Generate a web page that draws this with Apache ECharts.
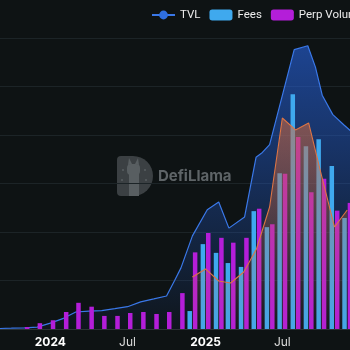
<!DOCTYPE html>
<html><head><meta charset="utf-8">
<script src="https://cdn.jsdelivr.net/npm/echarts@6/dist/echarts.min.js"></script>
<style>
html,body{margin:0;padding:0;background:#0e1314;overflow:hidden;width:350px;height:350px}
#c{position:absolute;left:0;top:0;width:430px;height:350px}
</style></head>
<body><div id="c"></div>
<script>
// TVL ($B)
const tvlDates = ['2023-09-01','2023-10-01','2023-11-01','2023-12-01','2024-01-01','2024-02-01','2024-03-01','2024-04-01','2024-05-01','2024-06-01','2024-07-01','2024-08-01','2024-09-01','2024-10-01','2024-10-20','2024-11-04','2024-12-01','2025-01-05','2025-02-01','2025-02-25','2025-04-03','2025-04-30','2025-05-15','2025-06-01','2025-07-29','2025-08-30','2025-09-17','2025-10-03','2025-10-28','2025-11-24','2025-12-20'];
const tvlValues = [0.005,0.008,0.012,0.02,0.06,0.11,0.175,0.185,0.19,0.21,0.23,0.28,0.31,0.34,0.50,0.63,0.96,1.23,1.31,1.04,1.155,1.77,1.82,1.90,2.88,2.92,2.70,2.41,2.21,2.10,2.00];
// Perp volume ($B, monthly)
const perpMonths = ['2023-11-01','2023-12-01','2024-01-01','2024-02-01','2024-03-01','2024-04-01','2024-05-01','2024-06-01','2024-07-01','2024-08-01','2024-09-01','2024-10-01','2024-11-01','2024-12-01','2025-01-01','2025-02-01','2025-03-01','2025-04-01','2025-05-01','2025-06-01','2025-07-01','2025-08-01','2025-09-01','2025-10-01','2025-11-01','2025-12-01'];
const perpVolume = [2,6,9,17.5,27,23,13.5,13.5,16.5,17.5,15.5,17.5,37,79,99,94,89,94,124,108,160,198,141,155,122,130];
// Fees ($M, monthly)
const feeMonths = ['2024-12-01','2025-01-01','2025-02-01','2025-03-01','2025-04-01','2025-05-01','2025-06-01','2025-07-01','2025-08-01','2025-09-01','2025-10-01','2025-11-01','2025-12-01'];
const fees = [3.7,17.5,15.7,13.6,12.8,24.3,21,32.1,48.4,37.7,39.1,33.6,22.9];
// Open interest (monthly)
const oiMonths = feeMonths;
const openInterest = [53.6,61.9,49.5,47.4,58.8,82.5,125.8,217.5,205.2,212.4,159,105.2,122.7];

const legendNames = ['TVL','Fees','Perp Volume'];
const xMin = '2023-09-16';
const xMax = '2025-12-10';
const DAY = 86400000;

const zip = (a,b) => a.map((d,i)=>[d,b[i]]);
const chart = echarts.init(document.getElementById('c'), null, {renderer:'canvas'});
const LG = echarts.graphic.LinearGradient;
chart.setOption({
  backgroundColor:'#0e1314',
  animation:false,
  textStyle:{fontFamily:'Inter, "Open Sans", sans-serif'},
  legend:{
    data:legendNames, left:146, top:4, itemWidth:23, itemHeight:11, itemGap:9,
    textStyle:{color:'#ececec', fontSize:11.5, fontFamily:'Roboto, sans-serif'}
  },
  grid:{left:0, right:74, top:38, bottom:21},
  xAxis:{
    type:'time', min:xMin, max:xMax, splitNumber:3, minInterval:175*DAY,
    axisLine:{lineStyle:{color:'#2c3336'}},
    axisTick:{show:false},
    splitLine:{show:false},
    axisLabel:{
      color:'#dcdcdc', fontSize:12, margin:7,
      formatter:{year:'{b|{yyyy}}', month:'{MMM}'},
      rich:{b:{fontWeight:'bold', color:'#ffffff', fontSize:12}}
    }
  },
  yAxis:[
    {type:'value', min:0, max:3, interval:0.5, axisLabel:{show:false}, axisLine:{show:false}, axisTick:{show:false},
     splitLine:{lineStyle:{color:'#1c2427', width:1}}},
    {type:'value', min:0, max:60, show:false},
    {type:'value', min:0, max:300, show:false},
    {type:'value', min:0, max:300, show:false}
  ],
  graphic:[
    {type:'group', left:117, top:156, children:[
      {type:'rect', shape:{x:0,y:0,width:36,height:40,r:[4,20,20,4]}, style:{fill:'#3b4043'}},
      {type:'rect', shape:{x:10,y:8,width:13,height:11,r:4}, style:{fill:'#585e61'}},
      {type:'polygon', shape:{points:[[11,9],[12,2],[15,8]]}, style:{fill:'#585e61'}},
      {type:'polygon', shape:{points:[[18,8],[21,2],[22,9]]}, style:{fill:'#585e61'}},
      {type:'rect', shape:{x:12,y:17,width:10,height:23}, style:{fill:'#585e61'}},
      {type:'circle', shape:{cx:6,cy:14,r:1}, style:{fill:'#585e61'}},
      {type:'circle', shape:{cx:28,cy:14,r:1}, style:{fill:'#585e61'}},
      {type:'circle', shape:{cx:5,cy:24,r:1}, style:{fill:'#585e61'}},
      {type:'circle', shape:{cx:29,cy:24,r:1}, style:{fill:'#585e61'}}
    ]},
    {type:'text', left:158, top:169, style:{text:'DefiLlama', fill:'#5e6467', font:'bold 15px Inter, sans-serif'}}
  ],
  series:[
    {name:'TVL', type:'line', yAxisIndex:0, data:zip(tvlDates,tvlValues), symbol:'circle', symbolSize:8, showSymbol:false, z:1,
     itemStyle:{color:'#2f6fe0'},
     lineStyle:{color:'#3a78e8', width:1.2},
     areaStyle:{color:new LG(0,0,0,1,[{offset:0,color:'rgba(38,98,222,0.88)'},{offset:1,color:'rgba(38,98,222,0.06)'}])}},
    {name:'Fees', type:'bar', yAxisIndex:1, data:zip(feeMonths,fees), barWidth:4.5, barGap:'20%', z:2,
     itemStyle:{color:'#3fa9ee'}},
    {name:'Perp Volume', type:'bar', yAxisIndex:2, data:zip(perpMonths,perpVolume), barWidth:4.5, barGap:'20%', z:2,
     itemStyle:{color:'#b41ed9'}},
    {name:'Open Interest', type:'line', yAxisIndex:3, data:zip(oiMonths,openInterest), showSymbol:false, z:3,
     lineStyle:{color:'#dd7444', width:1.1},
     itemStyle:{color:'#dd7444'},
     areaStyle:{color:new LG(0,0,0,1,[{offset:0,color:'rgba(210,105,60,0.8)'},{offset:1,color:'rgba(210,105,60,0.05)'}])}}
  ]
});
</script>
</body></html>
